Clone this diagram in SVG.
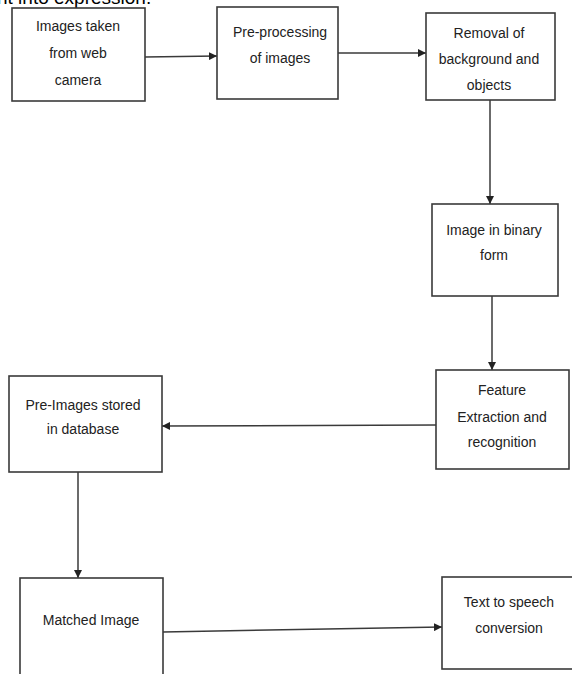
<svg xmlns="http://www.w3.org/2000/svg" width="572" height="674" viewBox="0 0 572 674">
<style>
.box{fill:#fff;stroke:#3a3a3a;stroke-width:1.6}
.t{font-family:"Liberation Sans",Arial,sans-serif;font-size:14px;fill:#222;text-anchor:middle}
.c{fill:none;stroke:#3a3a3a;stroke-width:1.5}
.top{font-family:"Liberation Sans",Arial,sans-serif;font-size:19px;fill:#000}
</style>
<defs>
<marker id="ah" viewBox="0 0 10 10" refX="10" refY="5" markerWidth="8" markerHeight="8" markerUnits="userSpaceOnUse" orient="auto">
<path d="M0,0 L10,5 L0,10 z" fill="#222"/>
</marker>
</defs>
<rect width="572" height="674" fill="#fff"/>
<text class="top" x="-3" y="4">nt into expression.</text>
<g id="connectors">
<line class="c" x1="145" y1="57" x2="217" y2="56" marker-end="url(#ah)"/>
<line class="c" x1="338" y1="53" x2="426" y2="53" marker-end="url(#ah)"/>
<line class="c" x1="490" y1="100" x2="490" y2="204" marker-end="url(#ah)"/>
<line class="c" x1="492" y1="296" x2="492" y2="370" marker-end="url(#ah)"/>
<line class="c" x1="436" y1="425" x2="162" y2="426" marker-end="url(#ah)"/>
<line class="c" x1="78" y1="472" x2="78" y2="578" marker-end="url(#ah)"/>
<line class="c" x1="163" y1="632" x2="442" y2="627" marker-end="url(#ah)"/>
</g>
<g id="n1"><rect class="box" x="12" y="8" width="133" height="93"/>
<text class="t" x="78" y="31">Images taken</text><text class="t" x="78" y="58">from web</text><text class="t" x="78" y="85">camera</text></g>
<g id="n2"><rect class="box" x="217" y="7" width="121" height="92"/>
<text class="t" x="280" y="37">Pre-processing</text><text class="t" x="280" y="63">of images</text></g>
<g id="n3"><rect class="box" x="426" y="13" width="129" height="87"/>
<text class="t" x="489" y="38">Removal of</text><text class="t" x="489" y="64">background and</text><text class="t" x="489" y="90">objects</text></g>
<g id="n4"><rect class="box" x="432" y="204" width="126" height="92"/>
<text class="t" x="494" y="235">Image in binary</text><text class="t" x="494" y="260">form</text></g>
<g id="n5"><rect class="box" x="436" y="370" width="133" height="99"/>
<text class="t" x="502" y="395">Feature</text><text class="t" x="502" y="422">Extraction and</text><text class="t" x="502" y="447">recognition</text></g>
<g id="n6"><rect class="box" x="9" y="376" width="153" height="96"/>
<text class="t" x="83" y="410">Pre-Images stored</text><text class="t" x="83" y="434">in database</text></g>
<g id="n7"><rect class="box" x="20" y="578" width="143" height="110"/>
<text class="t" x="91" y="625">Matched Image</text></g>
<g id="n8"><rect class="box" x="442" y="577" width="131" height="92"/>
<text class="t" x="509" y="607">Text to speech</text><text class="t" x="509" y="633">conversion</text></g>
</svg>
